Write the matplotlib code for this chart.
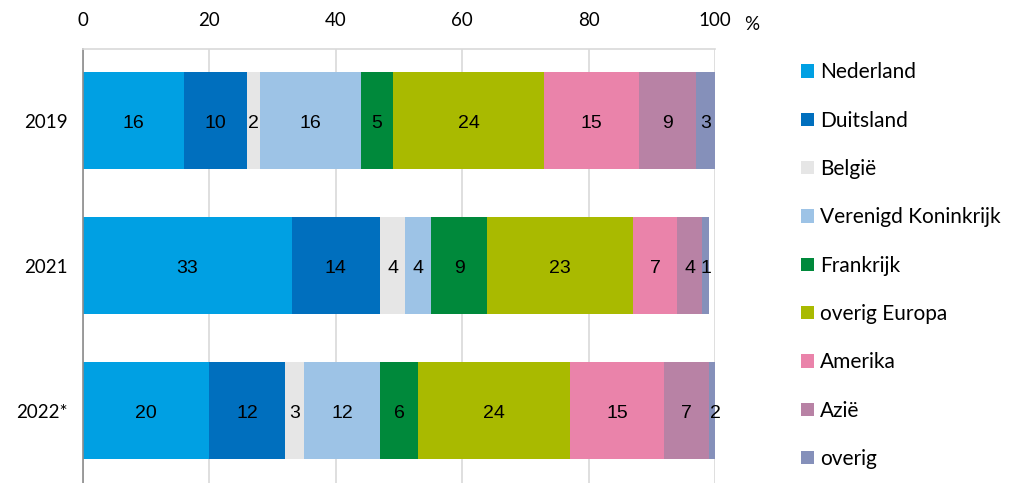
import matplotlib
matplotlib.use("Agg")
import matplotlib.pyplot as plt
import numpy as np

years = ["2019", "2021", "2022*"]
regions = ["Nederland", "Duitsland", "België", "Verenigd Koninkrijk", "Frankrijk",
           "overig Europa", "Amerika", "Azië", "overig"]
shares = {
    "2019":  [16, 10, 2, 16, 5, 24, 15, 9, 3],
    "2021":  [33, 14, 4, 4, 9, 23, 7, 4, 1],
    "2022*": [20, 12, 3, 12, 6, 24, 15, 7, 2],
}
colors = ["#00A0E3", "#006FBE", "#E6E6E6", "#9DC3E6", "#00893B",
          "#A9BA00", "#EA83AA", "#B882A5", "#8590BA"]
xticks = [0, 20, 40, 60, 80, 100]

plt.rcParams["font.family"] = ["Lato", "DejaVu Sans"]

fig = plt.figure(figsize=(10.12, 4.83), dpi=100)
ax = fig.add_axes([83 / 1012, 0.0, 632 / 1012, 1 - 48.5 / 483])

ypos = np.arange(len(years))
left = np.zeros(len(years))
vals = np.array([shares[y] for y in years], dtype=float)
for j, reg in enumerate(regions):
    w = vals[:, j]
    ax.barh(ypos, w, left=left, height=0.67, color=colors[j], label=reg, zorder=2)
    for i in range(len(years)):
        ax.text(left[i] + w[i] / 2, ypos[i] + 0.02, f"{int(w[i])}", ha="center", va="center",
                fontsize=14, family=["Liberation Sans", "DejaVu Sans"], color="black", zorder=3)
    left += w

ax.set_xlim(0, 100)
ax.set_ylim(len(years) - 0.5, -0.5)
ax.set_yticks(ypos)
ax.set_yticklabels(years, fontsize=13.5)
ax.set_xticks(xticks)
ax.set_xticklabels([str(t) for t in xticks], fontsize=13.5)
ax.xaxis.tick_top()
ax.tick_params(axis="x", length=0, pad=14)
ax.tick_params(axis="y", length=0, pad=11)
ax.grid(axis="x", color="#D9D9D9", linewidth=1.2, zorder=0)
ax.set_axisbelow(True)
for s in ["right", "bottom"]:
    ax.spines[s].set_visible(False)
ax.spines["top"].set_color("#D9D9D9")
ax.spines["top"].set_linewidth(1.2)
ax.spines["left"].set_color("#8C8C8C")
ax.spines["left"].set_linewidth(1.2)

fig.text(752 / 1012, 1 - 25 / 483, "%", fontsize=13.5, ha="center", va="center")

leg = fig.legend(loc="upper left", bbox_to_anchor=(793 / 1012, 1 - 54 / 483),
                 frameon=False, fontsize=15, handlelength=0.6, handleheight=0.6,
                 handletextpad=0.3, labelspacing=1.36, borderaxespad=0)

fig.savefig("out.png", dpi=100)
